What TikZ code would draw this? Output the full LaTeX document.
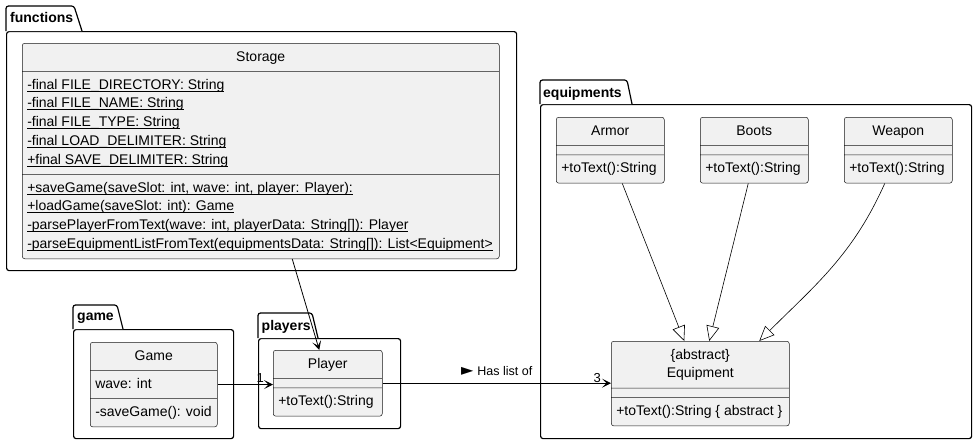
\documentclass[tikz,border=0pt]{standalone}
\usepackage{fontspec}
\setmainfont{Liberation Sans}
\newfontfamily\symfont{DejaVu Sans}
\usepackage{xcolor}
\usetikzlibrary{shapes,arrows.meta,positioning}

\definecolor{classfill}{HTML}{F1F1F1}
\definecolor{classline}{HTML}{181818}

\newsavebox{\memberbox}
\newcommand{\mline}[1]{\strut#1}
\newcommand{\sline}[1]{\sbox{\memberbox}{#1}\strut\rlap{\rule[-2.2pt]{\wd\memberbox}{0.7pt}}\usebox{\memberbox}}
\newcommand{\nofields}{\rule{0.1pt}{0pt}}

\begin{document}
\begin{tikzpicture}[x=1pt, y=-1pt,
        umlclass/.style={rectangle split, rectangle split parts=3, draw=classline, line width=0.5pt,
            fill=classfill, rounded corners=2.5pt, inner xsep=5pt, inner ysep=4.5pt,
            font=\fontsize{14}{18.7}\selectfont, rectangle split part align={center,left,left},
            anchor=north west},
        pkgbody/.style={draw, line width=1.2pt, fill=white, rounded corners=2.5pt, inner sep=0pt, anchor=north west},
        pkgtab/.style={draw, line width=1.2pt, fill=white, rounded corners=2.5pt, line join=round},
        pkgname/.style={font=\fontsize{14}{16}\selectfont\bfseries, anchor=base west, inner sep=0pt},
        mult/.style={font=\fontsize{13}{15}\selectfont, inner sep=0pt},
        assoc/.style={-{Stealth[length=9pt, width=9pt, inset=4.5pt]}, line width=0.8pt},
        inherit/.style={-{Triangle[open, length=15pt, width=13pt]}, line width=0.6pt}]

    \useasboundingbox (0,0) rectangle (976,445);

    % packages
    \node[pkgbody, minimum width=510pt, minimum height=239pt] (functions) at (6,31) {};
    \draw[pkgtab] (6,31) |- (74,6) -- (82,31);
    \node[pkgname] (functionsname) at (10,22) {functions};

    \node[pkgbody, minimum width=160pt, minimum height=109pt] (gamepkg) at (73,329) {};
    \draw[pkgtab] (73,329) |- (117,305) -- (123,329);
    \node[pkgname] (gamename) at (77,320) {game};

    \node[pkgbody, minimum width=142pt, minimum height=90pt] (players) at (258,338) {};
    \draw[pkgtab] (258,338) |- (312,313) -- (318,338);
    \node[pkgname] (playersname) at (261.5,330.5) {players};

    \node[pkgbody, minimum width=431pt, minimum height=334pt] (equipments) at (540,104) {};
    \draw[pkgtab] (540,104) |- (627,80) -- (632,104);
    \node[pkgname] (equipmentsname) at (543,97) {equipments};

    % classes
    \node[umlclass, align=left, minimum width=477pt] (storage) at (22,43) {\mline{Storage}%
        \nodepart{second}\sline{-final FILE\_DIRECTORY: String}\\
            \sline{-final FILE\_NAME: String}\\
            \sline{-final FILE\_TYPE: String}\\
            \sline{-final LOAD\_DELIMITER: String}\\
            \sline{+final SAVE\_DELIMITER: String}%
        \nodepart{third}\sline{+saveGame(saveSlot: int, wave: int, player: Player):}\\
            \sline{+loadGame(saveSlot: int): Game}\\
            \sline{-parsePlayerFromText(wave: int, playerData: String[]): Player}\\
            \sline{-parseEquipmentListFromText(equipmentsData: String[]): List<Equipment>}};

    \node[umlclass, minimum width=127pt] (game) at (90,342) {\mline{Game}%
        \nodepart{second}\mline{wave: int}%
        \nodepart{third}\mline{-saveGame(): void}};

    \node[umlclass, minimum width=109pt] (player) at (273,350) {\mline{Player}%
        \nodepart{second}\nofields%
        \nodepart{third}\mline{+toText():String}};

    \node[umlclass, minimum width=108pt] (armor) at (556,117) {\mline{Armor}%
        \nodepart{second}\nofields%
        \nodepart{third}\mline{+toText():String}};
    \node[umlclass, minimum width=108pt] (boots) at (700,117) {\mline{Boots}%
        \nodepart{second}\nofields%
        \nodepart{third}\mline{+toText():String}};
    \node[umlclass, minimum width=108pt] (weapon) at (844,117) {\mline{Weapon}%
        \nodepart{second}\nofields%
        \nodepart{third}\mline{+toText():String}};

    \node[umlclass, minimum width=178pt] (equipment) at (611,341) {\begin{tabular}{@{}c@{}}\{abstract\}\\Equipment\end{tabular}%
        \nodepart{second}\nofields%
        \nodepart{third}\mline{+toText():String \{ abstract \}}};

    % relations
    \draw[assoc] ([xshift=31.5pt]storage.south) -- ([xshift=-8.5pt]player.north);
    \draw[assoc] (game.east) -- (game.east -| player.west);
    \node[mult, above left=1pt and 9pt of player.west] (one) {1};
    \draw[assoc] (player.east) -- node[above=4pt, font=\fontsize{12.5}{15}\selectfont] (haslist) {{\symfont\fontsize{16}{16}\selectfont ►}\hspace{4pt}Has list of} (player.east -| equipment.west);
    \node[mult, above left=1pt and 10pt of equipment.west] (three) {3};

    \draw[inherit] ([xshift=12pt]armor.south) -- ([xshift=-16pt]equipment.north);
    \draw[inherit] ([xshift=-6pt]boots.south) -- ([xshift=9pt]equipment.north);
    \draw[inherit] ([xshift=-13.5pt]weapon.south) to[out=-114, in=45] ([xshift=59pt]equipment.north);
\end{tikzpicture}
\end{document}
